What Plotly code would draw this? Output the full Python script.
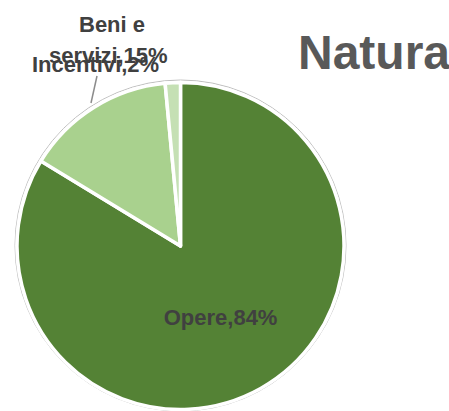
import plotly.graph_objects as go

# slice shares (clockwise from 12 o'clock)
categories = ['Opere', 'Beni e servizi', 'Incentivi']
shares = [83.7, 14.8, 1.5]
pct_labels = ['84%', '15%', '2%']
colors = ['#548235', '#A9D18E', '#C5E0B4']

W, H = 449, 411
label_font = dict(family='Liberation Sans, Arial, sans-serif',
                  size=22, color='#404040', weight='bold')


def px(x):
    return x / W


def py(y):
    return max(0.0, min(1.0, (H - y) / H))


texts = ['%s,%s' % (c, p) for c, p in zip(categories, pct_labels)]

fig = go.Figure()

# thin grey outline behind the pie
fig.add_trace(go.Pie(
    values=[1],
    domain={'x': [px(14.5), px(346.5)], 'y': [py(411), py(80)]},
    marker=dict(colors=['white'], line=dict(color='#BFBFBF', width=1)),
    textinfo='none', hoverinfo='skip', showlegend=False, sort=False
))

fig.add_trace(go.Pie(
    labels=categories,
    values=shares,
    text=texts,
    textinfo='text',
    textposition=['inside', 'none', 'none'],
    insidetextorientation='horizontal',
    insidetextfont=label_font,
    domain={'x': [px(17), px(344)], 'y': [py(409.5), py(82.5)]},
    marker=dict(colors=colors, line=dict(color='white', width=3.5)),
    sort=False,
    direction='clockwise',
    rotation=0,
    showlegend=False
))

fig.update_layout(
    width=W, height=H,
    margin=dict(l=0, r=0, t=0, b=0),
    paper_bgcolor='white',
    plot_bgcolor='white',
    showlegend=False,
    annotations=[
        dict(text='Natura', x=px(452), y=py(53), xref='paper', yref='paper',
             xanchor='right', yanchor='middle', showarrow=False,
             font=dict(family='Liberation Sans, Arial, sans-serif', size=48,
                       color='#595959', weight='bold')),
        dict(text='Beni e', x=px(112), y=py(24), xref='paper', yref='paper',
             xanchor='center', yanchor='middle', showarrow=False, font=label_font),
        dict(text='servizi,15%', x=px(108), y=py(56), xref='paper', yref='paper',
             xanchor='center', yanchor='middle', showarrow=False, font=label_font),
        dict(text=texts[2], x=px(95), y=py(64), xref='paper', yref='paper',
             xanchor='center', yanchor='middle', showarrow=False, font=label_font),
    ],
    shapes=[
        dict(type='line', xref='paper', yref='paper',
             x0=px(97), y0=py(76), x1=px(91), y1=py(103),
             line=dict(color='#8C8C8C', width=1.5)),
    ]
)

fig.write_html("out.html", config={'displayModeBar': False},
               post_script="document.body.style.margin='0';")
